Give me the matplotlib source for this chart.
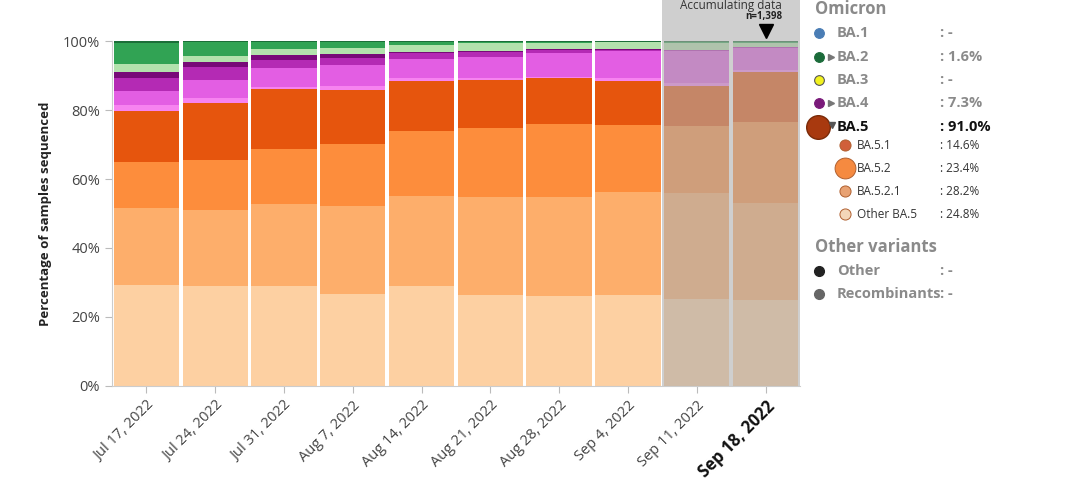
import matplotlib
matplotlib.use("Agg")
import matplotlib.pyplot as plt
import matplotlib.transforms as mtransforms
from matplotlib.patches import Rectangle
import numpy as np

plt.rcParams['font.family'] = ['Open Sans', 'DejaVu Sans']

# semanas
weeks = ["Jul 17, 2022", "Jul 24, 2022", "Jul 31, 2022", "Aug 7, 2022", "Aug 14, 2022",
         "Aug 21, 2022", "Aug 28, 2022", "Sep 4, 2022", "Sep 11, 2022", "Sep 18, 2022"]

# camadas, de baixo para cima (% das amostras)
other_ba5 = [29.3, 29.1, 29.0, 26.6, 29.0, 26.4, 26.1, 26.4, 25.1, 24.8]
ba5_2_1   = [22.4, 21.9, 23.7, 25.6, 26.1, 28.5, 28.8, 29.8, 30.7, 28.2]
ba5_2     = [13.3, 14.5, 15.9, 17.9, 18.8, 19.8, 21.0, 19.5, 19.5, 23.4]
ba5_1     = [14.7, 16.6, 17.4, 15.7, 14.5, 14.0, 13.3, 12.8, 11.7, 14.6]
ba4_pink  = [1.7, 1.4, 0.8, 1.2, 0.8, 0.5, 0.5, 0.8, 0.7, 0.5]
ba4_6     = [4.1, 5.3, 5.5, 6.1, 5.5, 6.3, 6.8, 7.7, 9.4, 6.6]
ba4_mag   = [3.7, 3.7, 2.2, 1.9, 1.7, 1.3, 1.0, 0.5, 0.2, 0.1]
ba4       = [1.9, 1.4, 1.5, 1.2, 0.5, 0.4, 0.2, 0.2, 0.1, 0.1]
ba2_75    = [2.1, 1.7, 1.6, 1.9, 2.0, 2.1, 1.7, 1.9, 1.9, 1.2]
ba2_12    = [6.3, 4.0, 2.1, 1.6, 0.8, 0.4, 0.3, 0.2, 0.5, 0.3]
ba2       = [0.5, 0.4, 0.3, 0.3, 0.3, 0.3, 0.3, 0.2, 0.2, 0.1]

layers = [other_ba5, ba5_2_1, ba5_2, ba5_1, ba4_pink, ba4_6, ba4_mag, ba4, ba2_75, ba2_12, ba2]
cores = ['#fdd0a2', '#fdae6b', '#fd8d3c', '#e6550d', '#f783f0', '#e35ee3', '#b42ab4',
         '#780a78', '#b3e2ad', '#31a354', '#1b6e38']

# legenda
leg_names = ["BA.1", "BA.2", "BA.3", "BA.4", "BA.5", "BA.5.1", "BA.5.2", "BA.5.2.1", "Other BA.5"]
leg_vals = [": -", ": 1.6%", ": -", ": 7.3%", ": 91.0%", ": 14.6%", ": 23.4%", ": 28.2%", ": 24.8%"]
leg_dots = ['#4a7db5', '#1b6b3a', '#f2f21e', '#7a1a7a', '#a8390f', '#d0603a', '#f58a40', '#e8a273', '#f4d6b8']
other_names = ["Other", "Recombinants"]
other_vals = [": -", ": -"]
other_dots = ['#222222', '#666666']
n_last = "n=1,398"

fig = plt.figure(figsize=(10.8, 4.86), dpi=100)
ax = fig.add_axes([0.1037, 0.2058, 0.637, 0.7098])

x = np.arange(len(weeks))
base = np.zeros(len(weeks))
for vals, c in zip(layers, cores):
    ax.bar(x, vals, bottom=base, width=0.95, color=c, linewidth=0, zorder=2)
    base += np.array(vals)

ax.set_xlim(-0.5, len(weeks) - 0.5)
ax.set_ylim(0, 100)
ax.set_yticks([0, 20, 40, 60, 80, 100])
ax.set_yticklabels(["0%", "20%", "40%", "60%", "80%", "100%"])
ax.set_xticks(x)
ax.set_xticklabels(weeks, rotation=45, ha='right', rotation_mode='anchor')
ax.tick_params(axis='both', colors='#bbbbbb', labelcolor='#444444', labelsize=10.5, length=5)
lbl = ax.get_xticklabels()[-1]
lbl.set_fontweight('bold')
lbl.set_fontsize(12)
lbl.set_color('#111111')
for s in ['top', 'right']:
    ax.spines[s].set_visible(False)
for s in ['left', 'bottom']:
    ax.spines[s].set_color('#cccccc')
ax.set_ylabel("Percentage of samples sequenced", fontsize=9.5, fontweight='bold', color='#222222', labelpad=8)

# dados acumulando (2 ultimas semanas)
trans = mtransforms.blended_transform_factory(ax.transData, ax.transAxes)
ax.add_patch(Rectangle((len(weeks) - 2.5, 0), 2, 1.2, transform=trans, clip_on=False,
                       facecolor='#acacac', alpha=0.57, linewidth=0, zorder=3))
ax.text(len(weeks) - 2.5 + 1, 1.102, "Accumulating data", transform=trans, ha='center', va='center',
        fontsize=8.5, color='#333333', zorder=4, clip_on=False)
ax.text(x[-1] + 0.25, 1.072, n_last, transform=trans, ha='right', va='center',
        fontsize=7, fontweight='bold', color='#222222', zorder=4, clip_on=False)
ax.plot([x[-1]], [1.03], transform=trans, marker='v', markersize=10, color='black',
        clip_on=False, zorder=4)

# legenda a direita, em pixels
lg = fig.add_axes([0, 0, 1, 1], facecolor='none')
lg.set_xlim(0, 1080)
lg.set_ylim(486, 0)
lg.axis('off')

gray = '#8a8a8a'
lg.text(815, 9, "Omicron", fontsize=12, fontweight='bold', color=gray, va='center')
ys = [33, 57, 80, 103, 127, 145, 168, 191, 214]
for i, (nm, v, c, yy) in enumerate(zip(leg_names, leg_vals, leg_dots, ys)):
    sub = i >= 5
    if i == 4:
        lg.plot(818, yy, 'o', markersize=17, color=c, markeredgecolor='#7a2a08')
        lg.text(837, yy, nm, fontsize=10.5, fontweight='bold', color='#111111', va='center')
        lg.text(940, yy, v, fontsize=10.5, fontweight='bold', color='#111111', va='center')
        lg.plot(832, yy - 2, marker='v', markersize=4, color='#555555')
    elif sub:
        ms = 15 if nm == "BA.5.2" else 8
        lg.plot(845, yy, 'o', markersize=ms, color=c, markeredgecolor='#b06030', markeredgewidth=0.7)
        lg.text(857, yy, nm, fontsize=8.5, color='#333333', va='center')
        lg.text(940, yy, v, fontsize=8.5, color='#333333', va='center')
    else:
        lg.plot(819, yy, 'o', markersize=7, color=c,
                markeredgecolor='#555555' if nm == "BA.3" else c, markeredgewidth=0.8)
        lg.text(837, yy, nm, fontsize=10.5, fontweight='bold', color=gray, va='center')
        lg.text(940, yy, v, fontsize=10.5, fontweight='bold', color=gray, va='center')
        if v != ": -":
            lg.plot(831, yy, marker='>', markersize=4, color='#777777')

lg.text(815, 247, "Other variants", fontsize=12, fontweight='bold', color=gray, va='center')
for nm, v, c, yy in zip(other_names, other_vals, other_dots, [271, 294]):
    lg.plot(819, yy, 'o', markersize=7, color=c)
    lg.text(837, yy, nm, fontsize=10.5, fontweight='bold', color=gray, va='center')
    lg.text(940, yy, v, fontsize=10.5, fontweight='bold', color=gray, va='center')

fig.savefig("out.png", dpi=100)
